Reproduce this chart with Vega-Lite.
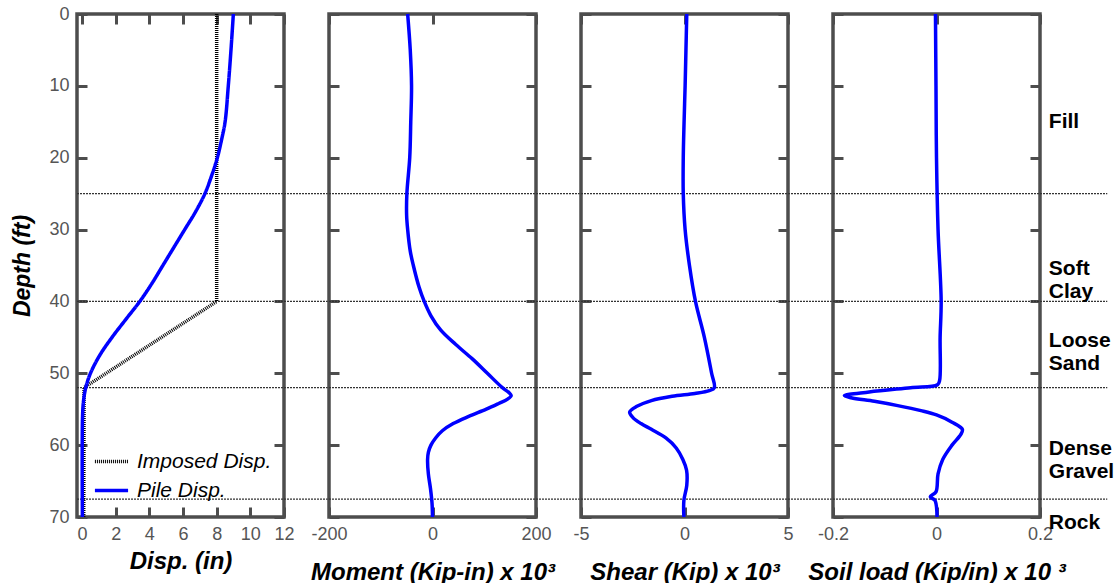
{
  "$schema": "https://vega.github.io/schema/vega-lite/v6.json",
  "padding": {"left": 10, "top": 3, "right": 0, "bottom": 0},
  "background": "white",
  "spacing": 45,
  "bounds": "flush",
  "config": {
    "font": "Liberation Sans",
    "view": {"stroke": "#4d4d4d", "strokeWidth": 3.5},
    "axis": {
      "grid": false, "domain": false, "tickColor": "#4d4d4d", "tickWidth": 3, "tickSize": -10,
      "labelFont": "Liberation Sans", "labelFontSize": 18, "labelColor": "#555555", "labelPadding": 18,
      "labelFlush": false, "labelOverlap": false,
      "labelExpr": "replace(format(datum.value, '~g'), '\u2212', '-')",
      "titleFont": "Liberation Sans", "titleFontSize": 24, "titleFontWeight": "bold", "titleFontStyle": "italic", "titleColor": "black"
    },
    "legend": {
      "orient": "bottom-left", "title": null, "labelFont": "Liberation Sans", "labelFontStyle": "italic", "labelFontSize": 21,
      "labelColor": "black", "symbolSize": 1100, "symbolStrokeWidth": 3.5, "rowPadding": -9, "offset": 16, "padding": 0,
      "labelOffset": 7, "symbolOffset": 0
    }
  },
  "datasets": {
    "layers": [{"depth": 25}, {"depth": 40}, {"depth": 52}, {"depth": 67.5}],
    "soils": [
      {"label": "Fill", "depth": 15},
      {"label": "Soft\nClay", "depth": 35.5},
      {"label": "Loose\nSand", "depth": 45.5},
      {"label": "Dense\nGravel", "depth": 60.5},
      {"label": "Rock", "depth": 70.8}
    ],
    "imposed": [
      {"series": "Imposed Disp.", "depth": 0, "value": 8},
      {"series": "Imposed Disp.", "depth": 40, "value": 8},
      {"series": "Imposed Disp.", "depth": 52, "value": 0.12},
      {"series": "Imposed Disp.", "depth": 70, "value": 0.1}
    ],
    "pile": [
      {"series": "Pile Disp.", "depth": 0, "value": 8.99},
      {"series": "Pile Disp.", "depth": 5, "value": 8.85},
      {"series": "Pile Disp.", "depth": 10, "value": 8.69},
      {"series": "Pile Disp.", "depth": 15, "value": 8.5},
      {"series": "Pile Disp.", "depth": 17.5, "value": 8.29},
      {"series": "Pile Disp.", "depth": 20, "value": 8.04},
      {"series": "Pile Disp.", "depth": 22.5, "value": 7.7},
      {"series": "Pile Disp.", "depth": 25, "value": 7.3},
      {"series": "Pile Disp.", "depth": 27.5, "value": 6.75},
      {"series": "Pile Disp.", "depth": 30, "value": 6.1},
      {"series": "Pile Disp.", "depth": 32.5, "value": 5.45},
      {"series": "Pile Disp.", "depth": 35, "value": 4.8},
      {"series": "Pile Disp.", "depth": 37.5, "value": 4.15},
      {"series": "Pile Disp.", "depth": 40, "value": 3.43},
      {"series": "Pile Disp.", "depth": 42.5, "value": 2.6},
      {"series": "Pile Disp.", "depth": 45, "value": 1.78},
      {"series": "Pile Disp.", "depth": 47.5, "value": 1.05},
      {"series": "Pile Disp.", "depth": 50, "value": 0.5},
      {"series": "Pile Disp.", "depth": 52, "value": 0.22},
      {"series": "Pile Disp.", "depth": 54, "value": 0.08},
      {"series": "Pile Disp.", "depth": 56, "value": 0.03},
      {"series": "Pile Disp.", "depth": 60, "value": 0.01},
      {"series": "Pile Disp.", "depth": 65, "value": 0.01},
      {"series": "Pile Disp.", "depth": 70, "value": 0.02}
    ],
    "moment": [
      {"depth": 0, "value": -48}, {"depth": 5, "value": -43}, {"depth": 10, "value": -40.5},
      {"depth": 15, "value": -42}, {"depth": 20, "value": -44}, {"depth": 25, "value": -49.5},
      {"depth": 28, "value": -50}, {"depth": 30, "value": -48}, {"depth": 33, "value": -43},
      {"depth": 35, "value": -37}, {"depth": 38, "value": -26}, {"depth": 40, "value": -16},
      {"depth": 42, "value": -3}, {"depth": 44, "value": 16}, {"depth": 46, "value": 45},
      {"depth": 48, "value": 77}, {"depth": 50, "value": 106}, {"depth": 52, "value": 135},
      {"depth": 52.7, "value": 148}, {"depth": 53.1, "value": 152}, {"depth": 53.6, "value": 145},
      {"depth": 54.2, "value": 128}, {"depth": 55, "value": 104}, {"depth": 56, "value": 70},
      {"depth": 57, "value": 40}, {"depth": 58, "value": 19}, {"depth": 59, "value": 6},
      {"depth": 60, "value": -3}, {"depth": 61, "value": -8}, {"depth": 62, "value": -9.5},
      {"depth": 64, "value": -8}, {"depth": 66, "value": -4}, {"depth": 68, "value": -1},
      {"depth": 70, "value": 0}
    ],
    "shear": [
      {"depth": 0, "value": 0.11}, {"depth": 5, "value": 0.07}, {"depth": 10, "value": 0.03},
      {"depth": 15, "value": -0.02}, {"depth": 20, "value": -0.06}, {"depth": 25, "value": -0.06},
      {"depth": 30, "value": 0.03}, {"depth": 35, "value": 0.24}, {"depth": 40, "value": 0.53},
      {"depth": 45, "value": 0.96}, {"depth": 50, "value": 1.31}, {"depth": 52, "value": 1.44},
      {"depth": 52.4, "value": 1.2}, {"depth": 52.8, "value": 0.5}, {"depth": 53.2, "value": -0.6},
      {"depth": 53.8, "value": -1.6}, {"depth": 54.6, "value": -2.3}, {"depth": 55.4, "value": -2.65},
      {"depth": 56.2, "value": -2.48}, {"depth": 57, "value": -2.1}, {"depth": 57.8, "value": -1.6},
      {"depth": 59, "value": -0.9}, {"depth": 60.4, "value": -0.4}, {"depth": 62, "value": -0.08},
      {"depth": 63.5, "value": 0.1}, {"depth": 65.6, "value": 0.11}, {"depth": 67.7, "value": -0.03},
      {"depth": 70, "value": -0.03}
    ],
    "soil": [
      {"depth": 0, "value": -0.002}, {"depth": 10, "value": -0.001}, {"depth": 20, "value": 0.0},
      {"depth": 30, "value": 0.003}, {"depth": 40, "value": 0.009}, {"depth": 45, "value": 0.007},
      {"depth": 51, "value": 0.006}, {"depth": 51.6, "value": 0.002}, {"depth": 52, "value": -0.05},
      {"depth": 52.6, "value": -0.13}, {"depth": 53.1, "value": -0.178}, {"depth": 53.4, "value": -0.165},
      {"depth": 53.9, "value": -0.12}, {"depth": 54.5, "value": -0.075}, {"depth": 55.2, "value": -0.03},
      {"depth": 55.8, "value": 0.0}, {"depth": 56.8, "value": 0.03}, {"depth": 57.8, "value": 0.05},
      {"depth": 58.5, "value": 0.047}, {"depth": 60, "value": 0.03}, {"depth": 62, "value": 0.012},
      {"depth": 64, "value": 0.003}, {"depth": 66.5, "value": -0.001}, {"depth": 67.2, "value": -0.012},
      {"depth": 67.7, "value": -0.003}, {"depth": 70, "value": 0.001}
    ]
  },
  "hconcat": [
    {
      "width": 207, "height": 503,
      "resolve": {"axis": {"x": "independent", "y": "independent"}},
      "layer": [
        {
          "data": {"name": "layers"},
          "mark": {"type": "rule", "color": "#333333", "strokeWidth": 1.2, "strokeDash": [2, 1]},
          "encoding": {
            "y": {"field": "depth", "type": "quantitative", "scale": {"domain": [0, 70], "reverse": true, "nice": false, "zero": false},
                  "axis": {"orient": "right", "labels": false, "title": null, "values": [0, 10, 20, 30, 40, 50, 60, 70]}},
            "x": {"datum": -0.3, "type": "quantitative", "scale": {"domain": [-0.3, 12], "nice": false, "zero": false},
                  "axis": {"orient": "top", "labels": false, "title": null, "values": [0, 2, 4, 6, 8, 10, 12]}},
            "x2": {"datum": 14.7}
          }
        },
        {
          "data": {"name": "imposed"},
          "mark": {"type": "line", "strokeWidth": 3.5},
          "encoding": {
            "y": {"field": "depth", "type": "quantitative", "scale": {"domain": [0, 70], "reverse": true, "nice": false, "zero": false}, "axis": null},
            "x": {"field": "value", "type": "quantitative", "scale": {"domain": [-0.3, 12], "nice": false, "zero": false}, "axis": null},
            "order": {"field": "depth", "type": "quantitative"},
            "color": {"field": "series", "type": "nominal", "scale": {"domain": ["Imposed Disp.", "Pile Disp."], "range": ["black", "#0000ff"]}},
            "strokeDash": {"field": "series", "type": "nominal", "scale": {"domain": ["Imposed Disp.", "Pile Disp."], "range": [[1, 1], [1, 0]]}}
          }
        },
        {
          "data": {"name": "pile"},
          "mark": {"type": "line", "strokeWidth": 3.5, "interpolate": "catmull-rom"},
          "encoding": {
            "y": {"field": "depth", "type": "quantitative", "scale": {"domain": [0, 70], "reverse": true, "nice": false, "zero": false},
                  "axis": {"orient": "left", "title": "Depth (ft)", "titleFontSize": 23, "titlePadding": 14, "values": [0, 10, 20, 30, 40, 50, 60, 70]}},
            "x": {"field": "value", "type": "quantitative", "scale": {"domain": [-0.3, 12], "nice": false, "zero": false},
                  "axis": {"orient": "bottom", "title": "Disp. (in)", "titlePadding": 6, "values": [0, 2, 4, 6, 8, 10, 12]}},
            "order": {"field": "depth", "type": "quantitative"},
            "color": {"field": "series", "type": "nominal", "scale": {"domain": ["Imposed Disp.", "Pile Disp."], "range": ["black", "#0000ff"]}},
            "strokeDash": {"field": "series", "type": "nominal", "scale": {"domain": ["Imposed Disp.", "Pile Disp."], "range": [[1, 1], [1, 0]]}}
          }
        }
      ]
    },
    {
      "width": 207, "height": 503,
      "resolve": {"axis": {"x": "independent", "y": "independent"}},
      "layer": [
        {
          "mark": {"type": "rule", "color": "#8c8c8c", "strokeWidth": 0.6},
          "encoding": {
            "x": {"datum": 0, "type": "quantitative", "scale": {"domain": [-200, 200], "nice": false}, "axis": null}
          }
        },
        {
          "data": {"name": "layers"},
          "mark": {"type": "rule", "color": "#333333", "strokeWidth": 1.2, "strokeDash": [2, 1]},
          "encoding": {
            "y": {"field": "depth", "type": "quantitative", "scale": {"domain": [0, 70], "reverse": true, "nice": false, "zero": false},
                  "axis": {"orient": "right", "labels": false, "title": null, "values": [0, 10, 20, 30, 40, 50, 60, 70]}},
            "x": {"datum": -200, "type": "quantitative", "scale": {"domain": [-200, 200], "nice": false},
                  "axis": {"orient": "top", "labels": false, "title": null, "values": [-200, 0, 200]}},
            "x2": {"datum": 287}
          }
        },
        {
          "data": {"name": "moment"},
          "mark": {"type": "line", "strokeWidth": 3.5, "color": "#0000ff", "interpolate": "catmull-rom"},
          "encoding": {
            "y": {"field": "depth", "type": "quantitative", "scale": {"domain": [0, 70], "reverse": true, "nice": false, "zero": false},
                  "axis": {"orient": "left", "labels": false, "title": null, "values": [0, 10, 20, 30, 40, 50, 60, 70]}},
            "x": {"field": "value", "type": "quantitative", "scale": {"domain": [-200, 200], "nice": false},
                  "axis": {"orient": "bottom", "title": "Moment (Kip-in) x 10³", "titlePadding": 17, "values": [-200, 0, 200]}},
            "order": {"field": "depth", "type": "quantitative"}
          }
        }
      ]
    },
    {
      "width": 207, "height": 503,
      "resolve": {"axis": {"x": "independent", "y": "independent"}},
      "layer": [
        {
          "mark": {"type": "rule", "color": "#8c8c8c", "strokeWidth": 0.6},
          "encoding": {
            "x": {"datum": 0, "type": "quantitative", "scale": {"domain": [-5, 5], "nice": false}, "axis": null}
          }
        },
        {
          "data": {"name": "layers"},
          "mark": {"type": "rule", "color": "#333333", "strokeWidth": 1.2, "strokeDash": [2, 1]},
          "encoding": {
            "y": {"field": "depth", "type": "quantitative", "scale": {"domain": [0, 70], "reverse": true, "nice": false, "zero": false},
                  "axis": {"orient": "right", "labels": false, "title": null, "values": [0, 10, 20, 30, 40, 50, 60, 70]}},
            "x": {"datum": -5, "type": "quantitative", "scale": {"domain": [-5, 5], "nice": false},
                  "axis": {"orient": "top", "labels": false, "title": null, "values": [-5, 0, 5]}},
            "x2": {"datum": 7.17}
          }
        },
        {
          "data": {"name": "shear"},
          "mark": {"type": "line", "strokeWidth": 3.5, "color": "#0000ff", "interpolate": "catmull-rom"},
          "encoding": {
            "y": {"field": "depth", "type": "quantitative", "scale": {"domain": [0, 70], "reverse": true, "nice": false, "zero": false},
                  "axis": {"orient": "left", "labels": false, "title": null, "values": [0, 10, 20, 30, 40, 50, 60, 70]}},
            "x": {"field": "value", "type": "quantitative", "scale": {"domain": [-5, 5], "nice": false},
                  "axis": {"orient": "bottom", "title": "Shear (Kip) x 10³", "titlePadding": 17, "values": [-5, 0, 5]}},
            "order": {"field": "depth", "type": "quantitative"}
          }
        }
      ]
    },
    {
      "width": 207, "height": 503,
      "resolve": {"axis": {"x": "independent", "y": "independent"}},
      "layer": [
        {
          "mark": {"type": "rule", "color": "#8c8c8c", "strokeWidth": 0.6},
          "encoding": {
            "x": {"datum": 0, "type": "quantitative", "scale": {"domain": [-0.2, 0.2], "nice": false}, "axis": null}
          }
        },
        {
          "data": {"name": "layers"},
          "mark": {"type": "rule", "color": "#333333", "strokeWidth": 1.2, "strokeDash": [2, 1]},
          "encoding": {
            "y": {"field": "depth", "type": "quantitative", "scale": {"domain": [0, 70], "reverse": true, "nice": false, "zero": false},
                  "axis": {"orient": "right", "labels": false, "title": null, "values": [0, 10, 20, 30, 40, 50, 60, 70]}},
            "x": {"datum": -0.2, "type": "quantitative", "scale": {"domain": [-0.2, 0.2], "nice": false},
                  "axis": {"orient": "top", "labels": false, "title": null, "values": [-0.2, 0, 0.2]}},
            "x2": {"datum": 0.33}
          }
        },
        {
          "data": {"name": "soil"},
          "mark": {"type": "line", "strokeWidth": 3.5, "color": "#0000ff", "interpolate": "catmull-rom"},
          "encoding": {
            "y": {"field": "depth", "type": "quantitative", "scale": {"domain": [0, 70], "reverse": true, "nice": false, "zero": false},
                  "axis": {"orient": "left", "labels": false, "title": null, "values": [0, 10, 20, 30, 40, 50, 60, 70]}},
            "x": {"field": "value", "type": "quantitative", "scale": {"domain": [-0.2, 0.2], "nice": false},
                  "axis": {"orient": "bottom", "title": "Soil load (Kip/in) x 10 ³", "titlePadding": 17, "values": [-0.2, 0, 0.2]}},
            "order": {"field": "depth", "type": "quantitative"}
          }
        },
        {
          "data": {"name": "soils"},
          "mark": {"type": "text", "align": "left", "baseline": "middle", "fontWeight": "bold", "fontSize": 21, "lineHeight": 23, "lineBreak": "\n", "color": "black"},
          "encoding": {
            "y": {"field": "depth", "type": "quantitative", "scale": {"domain": [0, 70], "reverse": true, "nice": false, "zero": false}, "axis": null},
            "x": {"datum": 0.217, "type": "quantitative", "scale": {"domain": [-0.2, 0.2], "nice": false}, "axis": null},
            "text": {"field": "label"}
          }
        }
      ]
    }
  ]
}
